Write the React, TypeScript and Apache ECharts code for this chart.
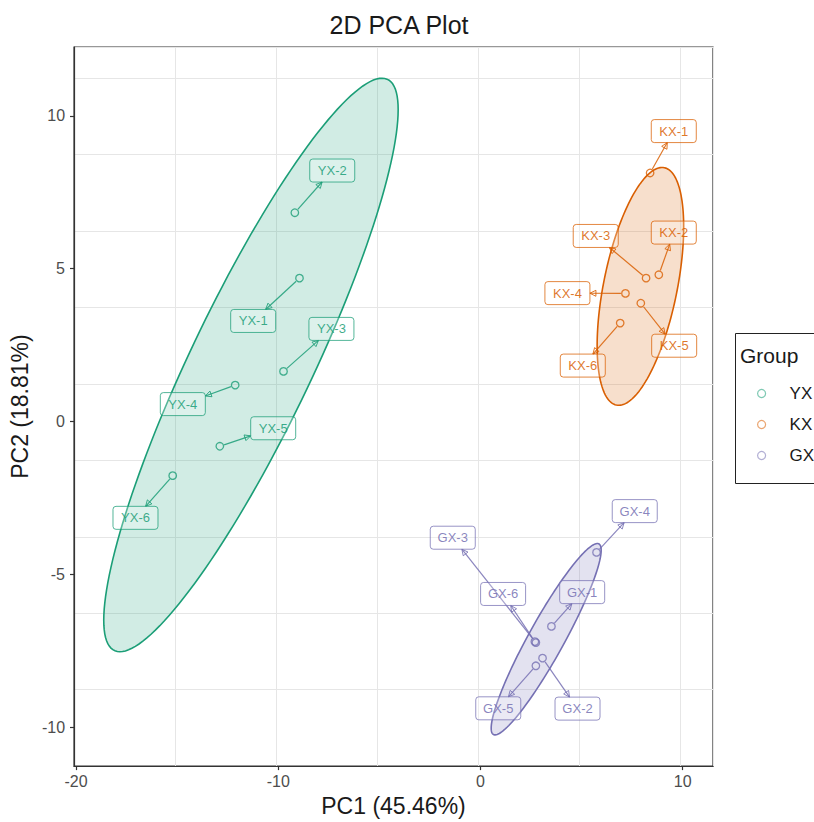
import { useEffect, useRef } from "react";
import * as echarts from "echarts";

const groups = ["YX", "KX", "GX"];
const groupColors = ["#1b9e77", "#d95f02", "#7570b3"];

const sampleNames = [
  "YX-1", "YX-2", "YX-3", "YX-4", "YX-5", "YX-6",
  "KX-1", "KX-2", "KX-3", "KX-4", "KX-5", "KX-6",
  "GX-1", "GX-2", "GX-3", "GX-4", "GX-5", "GX-6",
];
const sampleGroup = [0, 0, 0, 0, 0, 0, 1, 1, 1, 1, 1, 1, 2, 2, 2, 2, 2, 2];
const pc1 = [-8.95, -9.18, -9.74, -12.13, -12.89, -15.22, 8.39, 8.82, 8.19, 7.17, 7.93, 6.91, 3.51, 3.07, 2.74, 5.74, 2.74, 2.69];
const pc2 = [4.69, 6.83, 1.64, 1.19, -0.81, -1.77, 8.13, 4.8, 4.69, 4.19, 3.87, 3.22, -6.7, -7.74, -7.23, -4.28, -7.99, -7.2];
const labelPc1 = [-11.24, -7.33, -7.37, -14.72, -10.25, -17.06, 9.56, 9.56, 5.7, 4.3, 9.58, 5.06, 5.03, 4.8, -1.37, 7.63, 0.88, 1.12];
const labelPc2 = [3.29, 8.21, 3.03, 0.57, -0.22, -3.15, 9.5, 6.18, 6.07, 4.2, 2.48, 1.83, -5.58, -9.39, -3.8, -2.93, -9.38, -5.64];

// confidence ellipse per group: centre, half-extent along x and y, correlation
const ellipseCx = [-11.35, 7.91, 3.25];
const ellipseCy = [1.85, 4.42, -7.12];
const ellipseSx = [7.28, 2.14, 2.72];
const ellipseSy = [9.38, 3.89, 3.13];
const ellipseRho = [0.89, 0.5, 0.93];

const xTicks = [-20, -10, 0, 10];
const yTicks = [-10, -5, 0, 5, 10];

const FONT = "Liberation Sans, Arial, sans-serif";

function hexA(hex: string, a: number) {
  const n = parseInt(hex.slice(1), 16);
  return `rgba(${(n >> 16) & 255},${(n >> 8) & 255},${n & 255},${a})`;
}

export default function App() {
  const ref = useRef<HTMLDivElement>(null);
  useEffect(() => {
    if (!ref.current) return;
    const chart = echarts.init(ref.current, undefined, { renderer: "svg" });
    const xMin = -20.1, xMax = 11.5, yMin = -11.27, yMax = 12.25;
    const gridLine = { show: true, lineStyle: { color: "#e6e6e6", width: 1 } };

    const ellipseSeries = {
      type: "custom",
      z: 1,
      silent: true,
      data: groups.map((_, k) => [ellipseCx[k], ellipseCy[k]]),
      renderItem: (params: any, api: any) => {
        const k = params.dataIndex;
        const pts: number[][] = [];
        const n = 160;
        const r2 = Math.sqrt(1 - ellipseRho[k] * ellipseRho[k]);
        for (let j = 0; j < n; j++) {
          const t = (j / n) * Math.PI * 2;
          const dx = ellipseSx[k] * Math.cos(t);
          const dy = ellipseSy[k] * (ellipseRho[k] * Math.cos(t) + r2 * Math.sin(t));
          pts.push(api.coord([ellipseCx[k] + dx, ellipseCy[k] + dy]));
        }
        return {
          type: "polygon",
          shape: { points: pts },
          style: { fill: hexA(groupColors[k], 0.2), stroke: groupColors[k], lineWidth: 1.6 },
        };
      },
    };

    const pointSeries = groups.map((g, k) => ({
      name: g,
      type: "scatter",
      z: 3,
      symbol: "circle",
      symbolSize: 7.5,
      itemStyle: { color: "rgba(255,255,255,0)", borderColor: groupColors[k], borderWidth: 1.3 },
      data: pc1
        .map((x, i) => (sampleGroup[i] === k ? [x, pc2[i]] : null))
        .filter((d) => d !== null),
    }));

    const labelSeries = {
      type: "custom",
      z: 4,
      silent: true,
      encode: { x: [0, 2], y: [1, 3] },
      data: sampleNames.map((_, i) => [pc1[i], pc2[i], labelPc1[i], labelPc2[i]]),
      renderItem: (params: any, api: any) => {
        const i = params.dataIndex;
        const col = groupColors[sampleGroup[i]];
        const p = api.coord([pc1[i], pc2[i]]);
        const c = api.coord([labelPc1[i], labelPc2[i]]);
        const w = 45, h = 23;
        const dx = c[0] - p[0], dy = c[1] - p[1];
        const tx = dx !== 0 ? w / 2 / Math.abs(dx) : Infinity;
        const ty = dy !== 0 ? h / 2 / Math.abs(dy) : Infinity;
        const t = Math.min(tx, ty);
        const children: any[] = [];
        if (t < 1) {
          const ex = c[0] - dx * t, ey = c[1] - dy * t;
          const len = Math.hypot(ex - p[0], ey - p[1]);
          const ux = (ex - p[0]) / len, uy = (ey - p[1]) / len;
          if (len > 8) {
            const sx = p[0] + ux * 4.5, sy = p[1] + uy * 4.5;
            children.push({
              type: "line",
              shape: { x1: sx, y1: sy, x2: ex, y2: ey },
              style: { stroke: hexA(col, 0.85), lineWidth: 1.2 },
            });
            const al = 6, aw = 3;
            const bx = ex - ux * al, by = ey - uy * al;
            children.push({
              type: "polygon",
              shape: { points: [[ex, ey], [bx - uy * aw, by + ux * aw], [bx + uy * aw, by - ux * aw]] },
              style: { fill: "rgba(255,255,255,0)", stroke: hexA(col, 0.85), lineWidth: 1 },
            });
          }
        }
        children.push({
          type: "rect",
          shape: { x: c[0] - w / 2, y: c[1] - h / 2, width: w, height: h, r: 3 },
          style: { fill: "rgba(255,255,255,0.25)", stroke: hexA(col, 0.75), lineWidth: 1 },
        });
        children.push({
          type: "text",
          x: c[0],
          y: c[1],
          style: {
            text: sampleNames[i],
            fill: hexA(col, 0.85),
            font: `13px ${FONT}`,
            align: "center",
            verticalAlign: "middle",
          },
        });
        return { type: "group", children };
      },
    };

    chart.setOption({
      animation: false,
      backgroundColor: "#ffffff",
      textStyle: { fontFamily: FONT },
      title: {
        text: "2D PCA Plot",
        left: 394,
        top: 7,
        textAlign: "center",
        textStyle: { fontFamily: FONT, fontSize: 25, fontWeight: "normal", color: "#1a1a1a" },
      },
      grid: {
        left: 74,
        top: 47,
        right: 101,
        bottom: 51,
        show: true,
        borderColor: "#333333",
        borderWidth: 1.2,
        backgroundColor: "#ffffff",
      },
      legend: {
        orient: "vertical",
        left: 752,
        top: 380,
        itemWidth: 20,
        itemHeight: 8,
        itemGap: 14,
        selectedMode: false,
        data: groups.map((g, k) => ({
          name: g,
          icon: "circle",
          itemStyle: { color: "#ffffff", borderColor: hexA(groupColors[k], 0.7), borderWidth: 1.2 },
        })),
        textStyle: { fontFamily: FONT, fontSize: 17, color: "#1a1a1a", padding: [0, 0, 0, 13] },
      },
      xAxis: [
        {
          type: "value",
          min: xMin,
          max: xMax,
          interval: 10,
          name: "PC1 (45.46%)",
          nameLocation: "middle",
          nameGap: 25,
          nameTextStyle: { fontFamily: FONT, fontSize: 23, color: "#1a1a1a" },
          axisLine: { show: true, onZero: false, lineStyle: { color: "#333333", width: 1.2 } },
          axisTick: { show: true, length: 4, customValues: xTicks, lineStyle: { color: "#333333", width: 1.2 } },
          axisLabel: { customValues: xTicks, fontSize: 16, color: "#4d4d4d", margin: 7, fontFamily: FONT },
          splitLine: { show: false },
        },
        {
          type: "value",
          min: xMin,
          max: xMax,
          interval: 5,
          position: "bottom",
          axisLine: { show: false },
          axisTick: { show: false },
          axisLabel: { show: false },
          splitLine: gridLine,
        },
      ],
      yAxis: [
        {
          type: "value",
          min: yMin,
          max: yMax,
          interval: 5,
          name: "PC2 (18.81%)",
          nameLocation: "middle",
          nameGap: 42,
          nameTextStyle: { fontFamily: FONT, fontSize: 23, color: "#1a1a1a" },
          axisLine: { show: true, onZero: false, lineStyle: { color: "#333333", width: 1.2 } },
          axisTick: { show: true, length: 4, customValues: yTicks, lineStyle: { color: "#333333", width: 1.2 } },
          axisLabel: { customValues: yTicks, fontSize: 16, color: "#4d4d4d", margin: 9, fontFamily: FONT },
          splitLine: { show: false },
        },
        {
          type: "value",
          min: yMin,
          max: yMax,
          interval: 2.5,
          position: "left",
          axisLine: { show: false },
          axisTick: { show: false },
          axisLabel: { show: false },
          splitLine: gridLine,
        },
      ],
      graphic: [
        {
          type: "rect",
          z: -1,
          shape: { x: 735.5, y: 333.5, width: 100, height: 150 },
          style: { fill: "#ffffff", stroke: "#222222", lineWidth: 1 },
        },
        {
          type: "text",
          x: 740,
          y: 355,
          style: { text: "Group", font: `21px ${FONT}`, fill: "#1a1a1a", verticalAlign: "middle" },
        },
      ],
      series: [ellipseSeries, ...pointSeries, labelSeries],
    } as any);
    return () => chart.dispose();
  }, []);
  return <div ref={ref} style={{ position: "fixed", left: 0, top: 0, width: 814, height: 822 }} />;
}
